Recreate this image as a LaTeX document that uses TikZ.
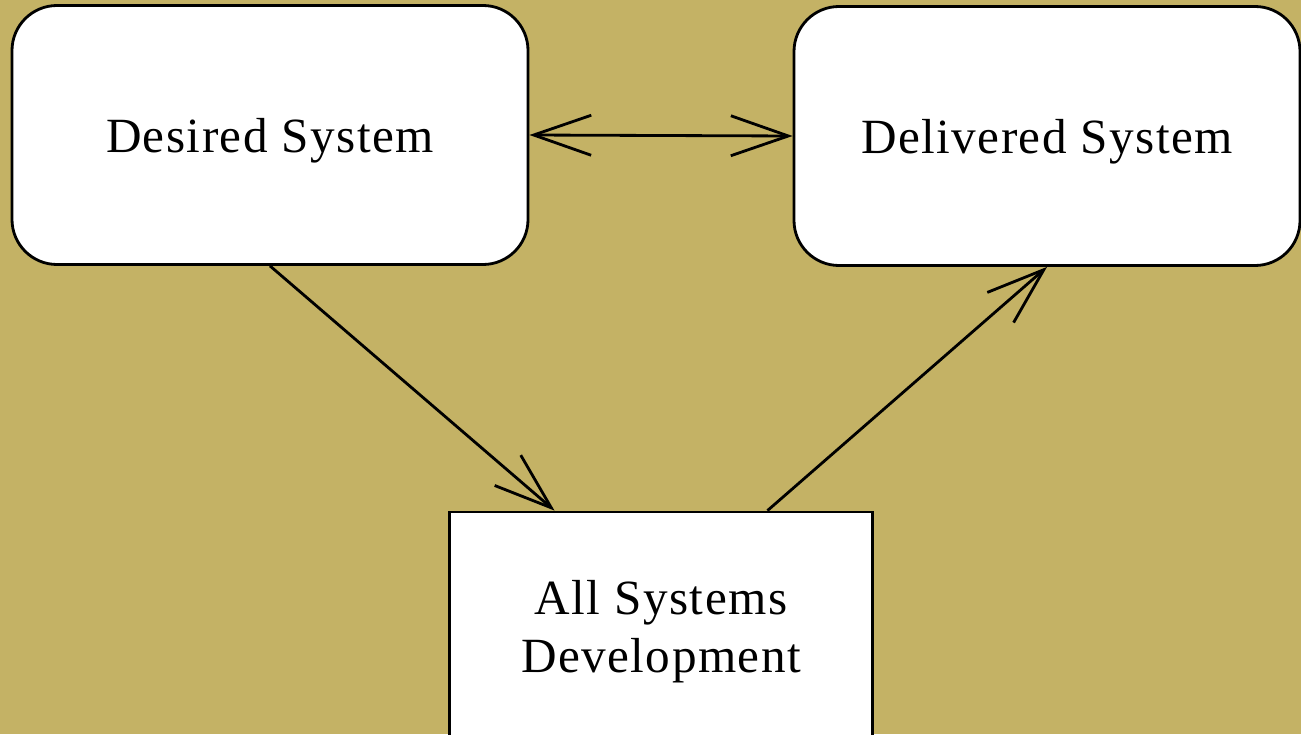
\documentclass[tikz,border=0pt]{standalone}
\usepackage{fontspec}
\setmainfont{Liberation Serif}[LetterSpace=3]
\usetikzlibrary{calc,arrows.meta}
\definecolor{khaki}{RGB}{196,178,101}

\begin{document}
\begin{tikzpicture}[font=\fontsize{28}{33}\selectfont,
  sysbox/.style={draw, fill=white, line width=1.6pt, rounded corners=0.9cm,
    text depth=0pt, minimum height=5.18cm},
  devbox/.style={draw, fill=white, line width=1.6pt, align=center,
    text depth=0pt, minimum width=8.46cm, minimum height=4.56cm},
  barb/.tip={Straight Barb[length=1.15cm, width=0.8cm, line width=1.6pt]},
  flow/.style={line width=1.6pt, -barb}]
  % page 1301x734 px, 50 px = 1 cm
  \fill[khaki] (0,0) rectangle (26.02,14.68);
  \useasboundingbox (0,0) rectangle (26.02,14.68);
  \node[sysbox, minimum width=10.32cm] (desired) at (5.4,11.98) {Desired System};
  \node[sysbox, minimum width=10.12cm] (delivered) at (20.94,11.96) {Delivered System};
  \node[devbox] (asd) at (13.22,2.16) {All Systems\\Development};
  % connectors
  \draw[line width=1.6pt, barb-barb] (desired.east) -- (delivered.west);
  \draw[flow] (desired.south) -- ($(asd.north west)!0.25!(asd.north east)$);
  \draw[flow] ($(asd.north west)!0.75!(asd.north east)$) -- (delivered.south);
\end{tikzpicture}
\end{document}
